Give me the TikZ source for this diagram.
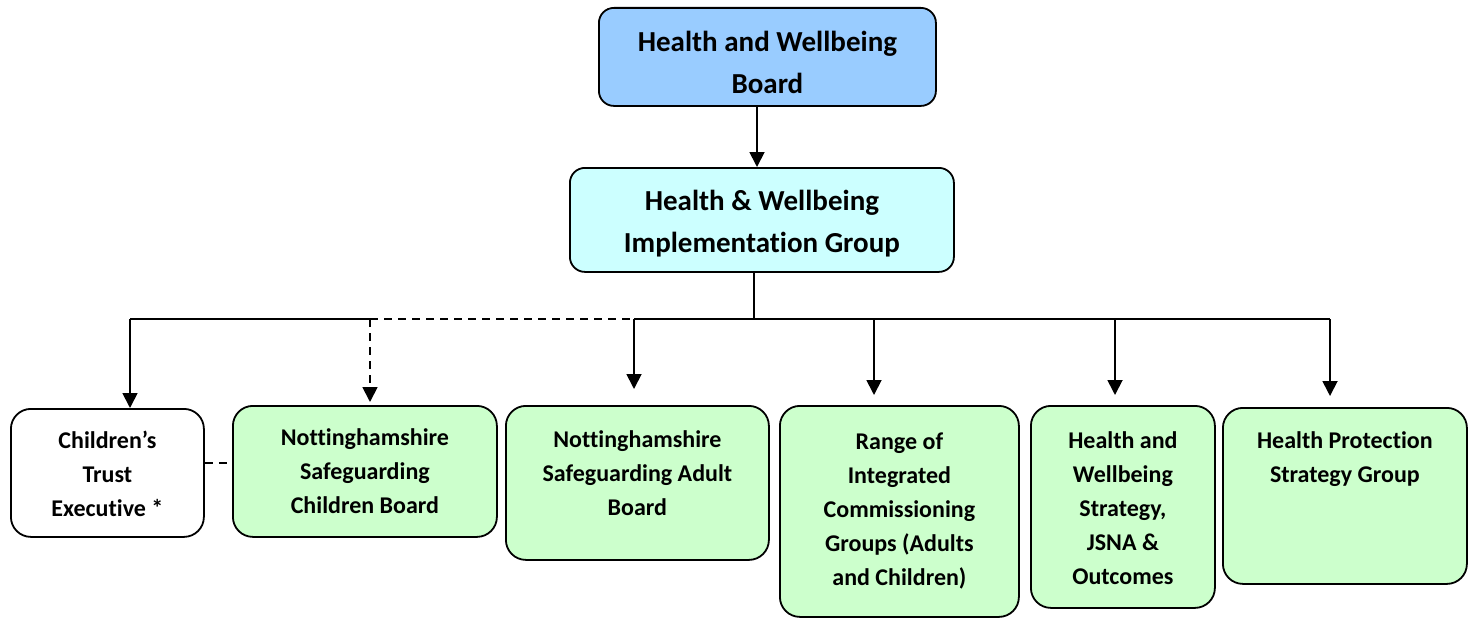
\documentclass[tikz,border=0pt]{standalone}
\usepackage{fontspec}
\setmainfont{Carlito}[Ligatures=CommonOff]
\usetikzlibrary{arrows.meta}

\definecolor{boardblue}{HTML}{99CCFF}
\definecolor{groupcyan}{HTML}{CCFFFF}
\definecolor{subgreen}{HTML}{CCFFCC}

% box text: [baseline of first line]{width}{height}{lines}
\newcommand{\unittext}[4][40]{\parbox[t][#3pt][t]{#2pt}{\centering\rule{0pt}{#1pt}#4}}

\begin{document}
\begin{tikzpicture}[
        x=1pt, y=-1pt,
        unit/.style={draw, line width=1.8pt, rounded corners=20pt, inner sep=0pt,
            anchor=north west, font=\fontsize{24}{34}\selectfont\bfseries},
        head/.style={unit, rounded corners=15pt, font=\fontsize{29}{42}\selectfont\bfseries},
        link/.style={line width=1.8pt},
        arr/.style={link, -{Triangle[width=15pt,length=15pt]}},
        dashlink/.style={link, dash pattern=on 8pt off 6pt},
    ]
        \useasboundingbox (0,0) rectangle (1474,618);

        \node[head, fill=boardblue] (hwb) at (598,7)
            {\unittext[44]{337}{98}{Health and Wellbeing\\Board}};
        \node[head, fill=groupcyan] (hwig) at (569,167)
            {\unittext[43]{384}{104}{Health \& Wellbeing\\Implementation Group}};

        \node[unit, fill=white] (cte) at (10,408)
            {\unittext[40]{193}{128}{Children’s\\Trust\\Executive *}};
        \node[unit, fill=subgreen] (nscb) at (232,405)
            {\unittext[40]{264}{131}{Nottinghamshire\\Safeguarding\\Children Board}};
        \node[unit, fill=subgreen] (nsab) at (505,405)
            {\unittext[42]{263}{154}{Nottinghamshire\\Safeguarding Adult\\Board}};
        \node[unit, fill=subgreen] (icg) at (779,405)
            {\unittext[44]{239}{211}{Range of\\Integrated\\Commissioning\\Groups (Adults\\and Children)}};
        \node[unit, fill=subgreen] (jsna) at (1030,405)
            {\unittext[43]{184}{202}{Health and\\Wellbeing\\Strategy,\\JSNA \&\\Outcomes}};
        \node[unit, fill=subgreen] (hpsg) at (1222,407)
            {\unittext[41]{244}{176}{Health Protection\\Strategy Group}};

        % branch points on the spine
        \coordinate (split) at (754,319);
        \coordinate (b1) at (130,319);
        \coordinate (b2) at (370,319);
        \coordinate (b3) at (634,319);
        \coordinate (b4) at (874,319);
        \coordinate (b5) at (1115,319);
        \coordinate (b6) at (1330,319);

        \draw[arr] (757,105) -- (hwig.north -| 757,0);
        \draw[link] (hwig.south -| split) -- (split);
        \draw[link] (b1) -- (b2);
        \draw[dashlink] (b2) -- (b3);
        \draw[link] (b3) -- (b6);

        \draw[arr] (b1) -- (b1 |- cte.north);
        \draw[arr, dashlink, shorten >=3pt] (b2) -- (b2 |- nscb.north);
        \draw[arr, shorten >=16pt] (b3) -- (b3 |- nsab.north);
        \draw[arr, shorten >=10pt] (b4) -- (b4 |- icg.north);
        \draw[arr, shorten >=10pt] (b5) -- (b5 |- jsna.north);
        \draw[arr, shorten >=11pt] (b6) -- (b6 |- hpsg.north);

        \draw[dashlink] ([yshift=10pt]cte.east) -- ([yshift=10pt]cte.east -| nscb.west);
    \end{tikzpicture}
\end{document}
